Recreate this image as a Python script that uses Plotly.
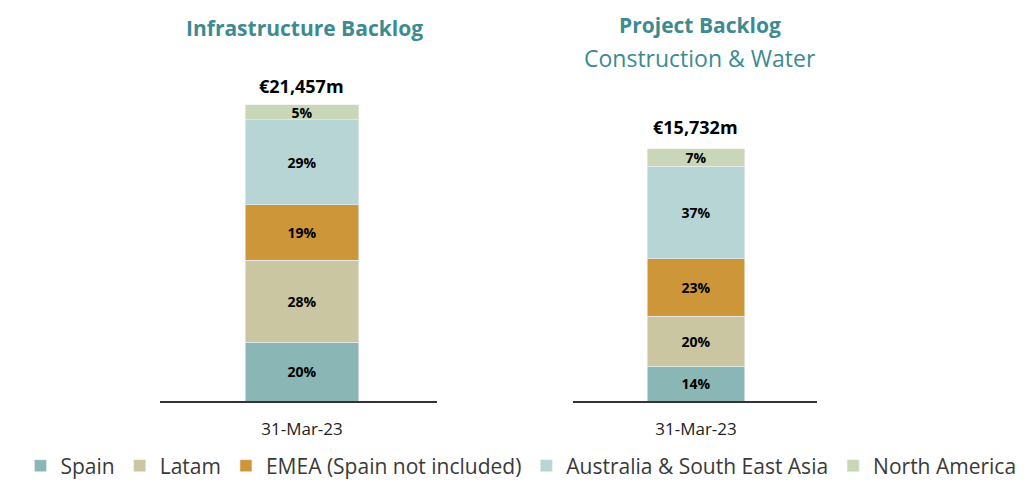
import plotly.graph_objects as go
from plotly.subplots import make_subplots

# backlog split by region, share of total (%)
regions = ["Spain", "Latam", "EMEA (Spain not included)",
           "Australia & South East Asia", "North America"]
colors = ["#8ab6b6", "#cac6a2", "#cd9639", "#b7d5d5", "#c9d7b8"]

period = ["31-Mar-23"]
infra_share = [20, 28, 19, 29, 5]
project_share = [14, 20, 23, 37, 7]
infra_total = "€21,457m"
project_total = "€15,732m"

teal = "#3d8b90"
font = "Open Sans"

# page body has an 8px margin; size the figure so the page is exactly 1034x490
W, H = 1026, 474


def px(x):
    return (x - 8) / W


def py(y):
    return 1 - (y - 8) / H


fig = make_subplots(rows=1, cols=2)

for i, name in enumerate(regions):
    fig.add_trace(go.Bar(
        x=period, y=[infra_share[i]], name=name, marker_color=colors[i],
        marker_line=dict(width=0.6, color="#eeeeee"),
        text=[f"{infra_share[i]}%"], texttemplate="<b>%{text}</b>",
        textposition="inside", insidetextanchor="middle", constraintext="none",
        textfont=dict(size=14, color="black", family=font),
        width=0.41, legendgroup=name, showlegend=True,
    ), row=1, col=1)
    fig.add_trace(go.Bar(
        x=period, y=[project_share[i]], name=name, marker_color=colors[i],
        marker_line=dict(width=0.6, color="#eeeeee"),
        text=[f"{project_share[i]}%"], texttemplate="<b>%{text}</b>",
        textposition="inside", insidetextanchor="middle", constraintext="none",
        textfont=dict(size=14, color="black", family=font),
        width=0.4, legendgroup=name, showlegend=False,
    ), row=1, col=2)

# totals above each bar
fig.add_annotation(x=period[0], y=sum(infra_share), xref="x", yref="y",
                   text=f"<b>{infra_total}</b>", showarrow=False,
                   yanchor="bottom", yshift=5, font=dict(size=18, color="black"))
fig.add_annotation(x=period[0], y=sum(project_share), xref="x2", yref="y2",
                   text=f"<b>{project_total}</b>", showarrow=False,
                   yanchor="bottom", yshift=8, font=dict(size=18, color="black"))

# titles
fig.add_annotation(x=px(304), y=py(28), xref="paper", yref="paper",
                   xanchor="center", yanchor="middle",
                   text="<b>Infrastructure Backlog</b>", showarrow=False,
                   font=dict(size=21, color=teal))
fig.add_annotation(x=px(700), y=py(25), xref="paper", yref="paper",
                   xanchor="center", yanchor="middle",
                   text="<b>Project Backlog</b>", showarrow=False,
                   font=dict(size=21, color=teal))
fig.add_annotation(x=px(700), y=py(58), xref="paper", yref="paper",
                   xanchor="center", yanchor="middle",
                   text="Construction &amp; Water", showarrow=False,
                   font=dict(size=23, color=teal))

fig.update_layout(
    width=W, height=H,
    margin=dict(l=0, r=0, t=0, b=0, autoexpand=False),
    barmode="stack",
    plot_bgcolor="white", paper_bgcolor="rgba(0,0,0,0)",
    font=dict(family=font, color="#222"),
    legend=dict(orientation="h", x=px(521), xanchor="center", y=py(466),
                yanchor="middle", traceorder="normal",
                bgcolor="rgba(0,0,0,0)",
                font=dict(size=21, color="#3a3a3a")),
    xaxis=dict(domain=[px(160), px(437)], range=[-0.5126, 0.4874]),
    xaxis2=dict(domain=[px(573), px(817)], range=[-0.504, 0.496]),
    yaxis=dict(domain=[py(401), py(90)], range=[0, 106.1]),
    yaxis2=dict(domain=[py(401), py(90)], range=[0, 124.4]),
)
fig.update_xaxes(showline=True, linecolor="#333", linewidth=1.5, ticks="",
                 tickfont=dict(size=17, color="#222"), ticklabelstandoff=12,
                 showgrid=False)
fig.update_yaxes(visible=False, showgrid=False)

fig.write_html("out.html")
